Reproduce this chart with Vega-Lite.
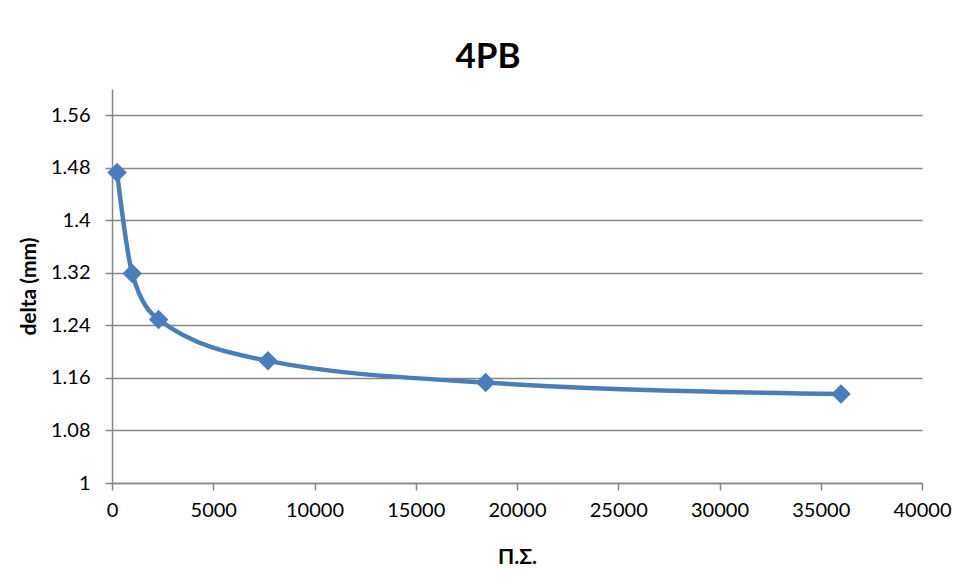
{
  "$schema": "https://vega.github.io/schema/vega-lite/v6.json",
  "autosize": {"type": "none"},
  "width": 810,
  "height": 394,
  "padding": {"left": 112, "top": 89, "right": 34, "bottom": 98},
  "background": "white",
  "config": {
    "font": "Lato",
    "view": {"stroke": null}
  },
  "title": {
    "text": "4PB",
    "font": "Lato",
    "fontSize": 35,
    "fontWeight": "bold",
    "color": "black",
    "anchor": "middle",
    "dx": -29,
    "baseline": "alphabetic",
    "offset": -14
  },
  "data": {
    "values": [
      {"ps": 250, "delta": 1.473},
      {"ps": 1000, "delta": 1.319},
      {"ps": 2300, "delta": 1.249},
      {"ps": 7700, "delta": 1.186},
      {"ps": 18450, "delta": 1.153},
      {"ps": 36000, "delta": 1.1355}
    ]
  },
  "encoding": {
    "x": {
      "field": "ps",
      "type": "quantitative",
      "scale": {"domain": [0, 40000], "nice": false},
      "axis": {
        "title": "Π.Σ.",
        "values": [0, 5000, 10000, 15000, 20000, 25000, 30000, 35000, 40000],
        "format": "d",
        "grid": false,
        "domainColor": "#868686",
        "domainWidth": 1.5,
        "tickColor": "#868686",
        "tickWidth": 1.5,
        "tickSize": 7,
        "labelFont": "Lato",
        "labelFontSize": 20,
        "labelColor": "black",
        "labelPadding": 10,
        "labelFlush": false,
        "titleFont": "Lato",
        "titleFontSize": 21,
        "titleFontWeight": "bold",
        "titleColor": "black",
        "titlePadding": 26
      }
    },
    "y": {
      "field": "delta",
      "type": "quantitative",
      "scale": {"domain": [1, 1.6], "nice": false, "zero": false},
      "axis": {
        "title": "delta (mm)",
        "values": [1, 1.08, 1.16, 1.24, 1.32, 1.4, 1.48, 1.56],
        "format": ".2~f",
        "grid": true,
        "gridColor": "#868686",
        "gridWidth": 1.5,
        "domainColor": "#868686",
        "domainWidth": 1.5,
        "tickColor": "#868686",
        "tickWidth": 1.5,
        "tickSize": 7,
        "labelFont": "Lato",
        "labelFontSize": 20,
        "labelColor": "black",
        "labelPadding": 15,
        "labelFlush": false,
        "titleFont": "Lato",
        "titleFontSize": 21,
        "titleFontWeight": "bold",
        "titleColor": "black",
        "titlePadding": 11
      }
    }
  },
  "layer": [
    {
      "mark": {"type": "line", "interpolate": "monotone", "color": "#4a7ebb", "strokeWidth": 4.5}
    },
    {
      "mark": {"type": "point", "shape": "diamond", "filled": true, "color": "#4a7ebb", "opacity": 1, "size": 380}
    }
  ]
}
